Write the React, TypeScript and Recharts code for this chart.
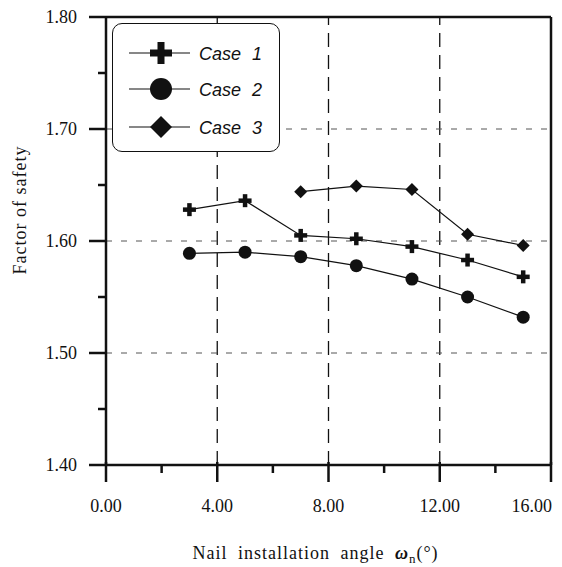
import { LineChart, Line, XAxis, YAxis, ReferenceLine, Legend, Label } from "recharts";

const angles = [3, 5, 7, 9, 11, 13, 15];
const case1 = [1.628, 1.636, 1.605, 1.602, 1.595, 1.583, 1.568];
const case2 = [1.589, 1.590, 1.586, 1.578, 1.566, 1.550, 1.532];
const case3Angles = [7, 9, 11, 13, 15];
const case3 = [1.644, 1.649, 1.646, 1.606, 1.596];

const xTicks = [0, 2, 4, 6, 8, 10, 12, 14, 16];
const yTicks = [1.4, 1.45, 1.5, 1.55, 1.6, 1.65, 1.7, 1.75, 1.8];
const xGrid = [4, 8, 12];
const yGrid = [1.5, 1.6, 1.7];

const seriesNames = ["Case 1", "Case 2", "Case 3"];

const INK = "#111";
const SERIF = "Liberation Serif, serif";
const SANS = "Liberation Sans, sans-serif";

const data1 = angles.map((x, i) => ({ x, y: case1[i] }));
const data2 = angles.map((x, i) => ({ x, y: case2[i] }));
const data3 = case3Angles.map((x, i) => ({ x, y: case3[i] }));

function Plus({ cx, cy, s, t }: { cx: number; cy: number; s: number; t: number }) {
  return (
    <g fill={INK}>
      <rect x={cx - s / 2} y={cy - t / 2} width={s} height={t} />
      <rect x={cx - t / 2} y={cy - s / 2} width={t} height={s} />
    </g>
  );
}

function Diamond({ cx, cy, r }: { cx: number; cy: number; r: number }) {
  return <polygon points={`${cx},${cy - r} ${cx + r},${cy} ${cx},${cy + r} ${cx - r},${cy}`} fill={INK} />;
}

function marker(kind: number, cx: number, cy: number, big: boolean) {
  if (kind === 0) return <Plus cx={cx} cy={cy} s={big ? 22 : 13} t={big ? 7 : 4.5} />;
  if (kind === 1) return <circle cx={cx} cy={cy} r={big ? 11 : 6.5} fill={INK} />;
  return <Diamond cx={cx} cy={cy} r={big ? 11 : 6.5} />;
}

const dotFor = (kind: number) => (p: any) => (
  <g key={`d${kind}-${p.index}`}>{marker(kind, p.cx, p.cy, false)}</g>
);

function XTick({ x, y, payload }: any) {
  const v = payload.value;
  const major = v % 4 === 0;
  const last = v === xTicks[xTicks.length - 1];
  return (
    <g>
      <line x1={x} x2={x} y1={major ? y - 3 : y} y2={major ? y + 17 : y + 8} stroke={INK} strokeWidth={2.5} />
      {major && (
        <text
          x={last ? x + 1 : x}
          y={y + 47}
          textAnchor={last ? "end" : "middle"}
          style={{ fontFamily: SERIF, fontSize: 18 }}
          fill={INK}
        >
          {v.toFixed(2)}
        </text>
      )}
    </g>
  );
}

function YTick({ x, y, payload }: any) {
  const v = payload.value;
  const major = Math.round(v * 100) % 10 === 0;
  return (
    <g>
      <line x1={major ? x - 17 : x - 8} x2={x} y1={y} y2={y} stroke={INK} strokeWidth={2.5} />
      {major && (
        <text x={x - 29} y={y + 6} textAnchor="end" style={{ fontFamily: SERIF, fontSize: 18 }} fill={INK}>
          {v.toFixed(2)}
        </text>
      )}
    </g>
  );
}

function LegendBox() {
  const rows = [29, 65, 103];
  return (
    <div
      style={{
        width: 166,
        height: 127,
        border: `1.5px solid ${INK}`,
        borderRadius: 10,
        background: "#fff",
      }}
    >
      <svg width={166} height={127}>
        {seriesNames.map((name, i) => (
          <g key={name}>
            <line x1={16} x2={77} y1={rows[i]} y2={rows[i]} stroke={INK} strokeWidth={1.2} />
            {marker(i, 48, rows[i], true)}
            <text
              x={86}
              y={rows[i] + 7}
              style={{ fontFamily: SANS, fontStyle: "italic", fontSize: 18, wordSpacing: 6 }}
              fill={INK}
            >
              {name}
            </text>
          </g>
        ))}
      </svg>
    </div>
  );
}

export default function App() {
  return (
    <LineChart width={554} height={559} margin={{ top: 9, right: 11, left: 18, bottom: 42 }}>
      {xGrid.map((v) => (
        <ReferenceLine key={`vx${v}`} x={v} stroke={INK} strokeWidth={1.3} strokeDasharray="14 8" />
      ))}
      {yGrid.map((v) => (
        <ReferenceLine key={`hy${v}`} y={v} stroke="#555" strokeWidth={1} strokeDasharray="6 9" />
      ))}
      <ReferenceLine y={1.8} stroke={INK} strokeWidth={2.5} />
      <ReferenceLine x={16} stroke={INK} strokeWidth={2.5} />
      <XAxis
        type="number"
        dataKey="x"
        domain={[0, 16]}
        ticks={xTicks}
        interval={0}
        height={60}
        tickSize={0}
        tickMargin={0}
        tickLine={false}
        axisLine={{ stroke: INK, strokeWidth: 2.5 }}
        tick={<XTick />}
      >
        <Label
          content={({ viewBox }: any) => (
            <text
              x={viewBox.x + viewBox.width / 2 - 13}
              y={viewBox.y + 94}
              textAnchor="middle"
              style={{ fontFamily: SERIF, fontSize: 18, letterSpacing: 1, wordSpacing: 5 }}
              fill={INK}
            >
              Nail installation angle{" "}
              <tspan fontStyle="italic" fontWeight="bold">ω</tspan>
              <tspan fontSize={13} dy={4}>n</tspan>
              <tspan dy={-4}>(°)</tspan>
            </text>
          )}
        />
      </XAxis>
      <YAxis
        type="number"
        domain={[1.4, 1.8]}
        ticks={yTicks}
        interval={0}
        width={80}
        tickSize={0}
        tickMargin={0}
        tickLine={false}
        axisLine={{ stroke: INK, strokeWidth: 2.5 }}
        tick={<YTick />}
      >
        <Label
          content={({ viewBox }: any) => {
            const cx = viewBox.x - 6;
            const cy = viewBox.y + 193;
            return (
              <text
                x={cx}
                y={cy}
                transform={`rotate(-90 ${cx} ${cy})`}
                textAnchor="middle"
                dominantBaseline="central"
                style={{ fontFamily: SERIF, fontSize: 18, letterSpacing: 1 }}
                fill={INK}
              >
                Factor of safety
              </text>
            );
          }}
        />
      </YAxis>
      <Legend
        layout="vertical"
        align="center"
        verticalAlign="middle"
        wrapperStyle={{ left: 104, top: 15, width: 169, height: 130 }}
        content={() => <LegendBox />}
      />
      <Line data={data1} dataKey="y" name={seriesNames[0]} type="linear" stroke={INK} strokeWidth={1.2} dot={dotFor(0)} isAnimationActive={false} />
      <Line data={data2} dataKey="y" name={seriesNames[1]} type="linear" stroke={INK} strokeWidth={1.2} dot={dotFor(1)} isAnimationActive={false} />
      <Line data={data3} dataKey="y" name={seriesNames[2]} type="linear" stroke={INK} strokeWidth={1.2} dot={dotFor(2)} isAnimationActive={false} />
    </LineChart>
  );
}
